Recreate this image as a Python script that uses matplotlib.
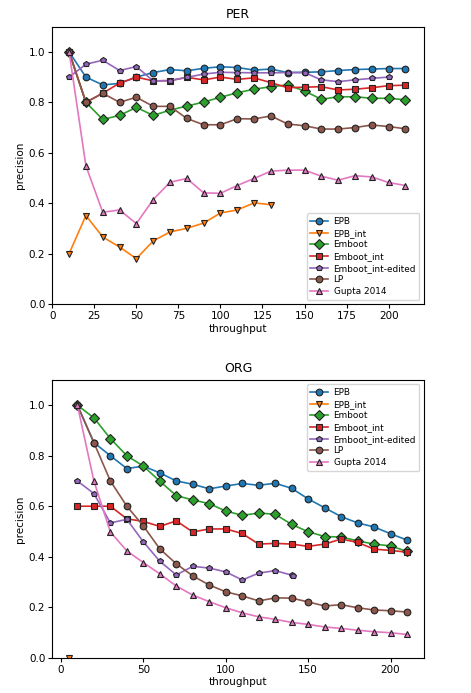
import matplotlib
matplotlib.use("Agg")
import matplotlib.pyplot as plt

# ---------------- data ----------------
x_full = list(range(10, 211, 10))

per_epb = [1.0, 0.90, 0.869, 0.875, 0.90, 0.918, 0.93, 0.925, 0.935, 0.941, 0.938,
           0.928, 0.932, 0.918, 0.919, 0.921, 0.926, 0.93, 0.932, 0.934, 0.934]
per_epb_int_x = list(range(10, 131, 10))
per_epb_int = [0.2, 0.351, 0.266, 0.226, 0.18, 0.25, 0.286, 0.30, 0.321, 0.361, 0.373, 0.401, 0.394]
per_emboot = [1.0, 0.8, 0.732, 0.748, 0.78, 0.748, 0.769, 0.785, 0.801, 0.82, 0.838,
              0.852, 0.862, 0.869, 0.845, 0.812, 0.822, 0.822, 0.816, 0.816, 0.81]
per_emboot_int = [1.0, 0.8, 0.836, 0.876, 0.90, 0.885, 0.886, 0.899, 0.889, 0.90, 0.891,
                  0.897, 0.878, 0.858, 0.86, 0.862, 0.849, 0.852, 0.858, 0.866, 0.868]
per_edited_x = list(range(10, 201, 10))
per_edited = [0.90, 0.951, 0.967, 0.926, 0.942, 0.885, 0.886, 0.899, 0.912, 0.919, 0.918,
              0.917, 0.917, 0.918, 0.918, 0.889, 0.882, 0.889, 0.895, 0.90]
per_lp = [1.0, 0.8, 0.836, 0.80, 0.82, 0.784, 0.784, 0.736, 0.711, 0.711, 0.735,
          0.734, 0.746, 0.714, 0.707, 0.694, 0.694, 0.70, 0.71, 0.704, 0.695]
per_gupta = [1.0, 0.548, 0.364, 0.373, 0.319, 0.414, 0.483, 0.498, 0.441, 0.439, 0.47,
             0.498, 0.527, 0.531, 0.531, 0.507, 0.491, 0.509, 0.504, 0.482, 0.47]

org_epb = [1.0, 0.852, 0.80, 0.749, 0.759, 0.732, 0.70, 0.687, 0.669, 0.68, 0.69,
           0.683, 0.691, 0.671, 0.629, 0.594, 0.559, 0.534, 0.518, 0.491, 0.466]
org_epb_int_x = [5]
org_epb_int = [0.0]
org_emboot = [1.0, 0.95, 0.868, 0.80, 0.759, 0.699, 0.642, 0.625, 0.61, 0.581, 0.564,
              0.573, 0.568, 0.528, 0.499, 0.48, 0.478, 0.463, 0.45, 0.443, 0.421]
org_emboot_int = [0.60, 0.60, 0.60, 0.55, 0.54, 0.52, 0.542, 0.498, 0.51, 0.51, 0.492,
                  0.45, 0.453, 0.45, 0.441, 0.45, 0.47, 0.457, 0.43, 0.425, 0.418]
org_edited_x = [10, 20, 30, 40, 50, 60, 70, 80, 90, 100, 110, 120, 130, 140, 141]
org_edited = [0.70, 0.65, 0.534, 0.548, 0.459, 0.382, 0.328, 0.362, 0.355, 0.34, 0.308,
              0.335, 0.345, 0.327, 0.325]
org_lp = [1.0, 0.852, 0.70, 0.60, 0.522, 0.431, 0.372, 0.324, 0.288, 0.261, 0.245,
          0.225, 0.237, 0.236, 0.221, 0.205, 0.21, 0.198, 0.189, 0.186, 0.181]
org_gupta = [1.0, 0.70, 0.498, 0.423, 0.377, 0.332, 0.284, 0.248, 0.222, 0.198, 0.178,
             0.162, 0.152, 0.14, 0.132, 0.122, 0.116, 0.109, 0.103, 0.099, 0.092]

labels = ["EPB", "EPB_int", "Emboot", "Emboot_int", "Emboot_int-edited", "LP", "Gupta 2014"]
markers = ["o", "v", "D", "s", "p", "o", "^"]
colors = ["C0", "C1", "C2", "C3", "C4", "C5", "C6"]
msizes = [4.8, 4.8, 4.6, 4.4, 4.3, 4.8, 4.8]

per_series = [(x_full, per_epb), (per_epb_int_x, per_epb_int), (x_full, per_emboot),
              (x_full, per_emboot_int), (per_edited_x, per_edited), (x_full, per_lp),
              (x_full, per_gupta)]
org_series = [(x_full, org_epb), (org_epb_int_x, org_epb_int), (x_full, org_emboot),
              (x_full, org_emboot_int), (org_edited_x, org_edited), (x_full, org_lp),
              (x_full, org_gupta)]

fig = plt.figure(figsize=(4.71, 6.93), dpi=100)
ax1 = fig.add_axes([0.111, 0.5613, 0.789, 0.4002])
ax2 = fig.add_axes([0.111, 0.0509, 0.789, 0.4008])


def draw(ax, series, title, legend_loc, xticks):
    for (xs, ys), lab, m, c, ms in zip(series, labels, markers, colors, msizes):
        ax.plot(xs, ys, marker=m, color=c, label=lab, markersize=ms,
                markeredgecolor="#222222", markeredgewidth=0.8, linewidth=1.2)
    ax.set_ylim(0, 1.1)
    ax.set_yticks([0.0, 0.2, 0.4, 0.6, 0.8, 1.0])
    ax.set_xticks(xticks)
    ax.set_title(title, fontsize=9)
    ax.set_xlabel("throughput", fontsize=7.5, labelpad=2)
    ax.set_ylabel("precision", fontsize=7.5, labelpad=3)
    ax.tick_params(labelsize=7.5, length=3, pad=2)
    ax.legend(loc=legend_loc, fontsize=6.4, labelspacing=0.3, handlelength=2.0,
              borderpad=0.4, handletextpad=0.6)


draw(ax1, per_series, "PER", "lower right", [0, 25, 50, 75, 100, 125, 150, 175, 200])
draw(ax2, org_series, "ORG", "upper right", [0, 50, 100, 150, 200])
ax1.set_xlim(0, 221)

fig.savefig("out.png", dpi=100)
